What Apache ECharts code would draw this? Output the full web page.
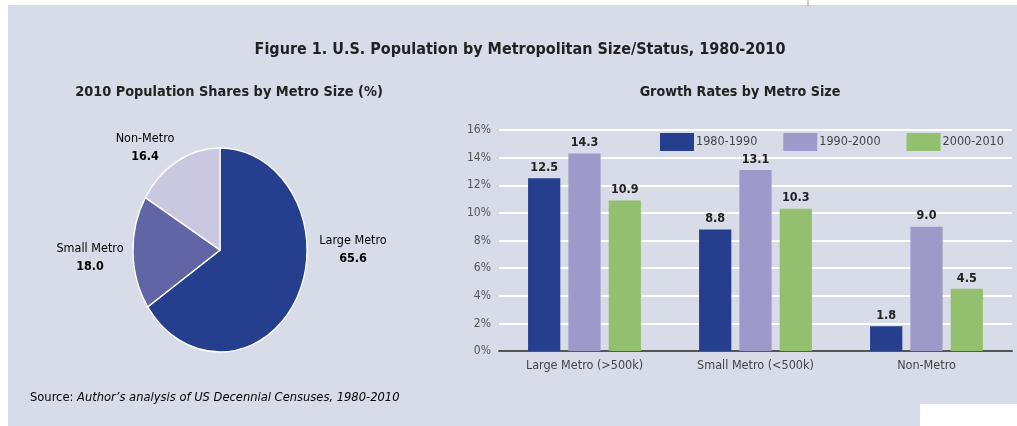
<!DOCTYPE html>
<html>
<head>
<meta charset="utf-8">
<script src="https://cdn.jsdelivr.net/npm/echarts@6/dist/echarts.min.js"></script>
<style>
  html, body { margin: 0; padding: 0; background: #ffffff; }
  #main { width: 1017px; height: 426px; }
</style>
</head>
<body>
<div id="main"></div>
<script>
// pie data: 2010 population shares (%)
var shareNames = ['Large Metro', 'Small Metro', 'Non-Metro'];
var shareValues = [65.6, 18.0, 16.4];
var shareColors = ['#253f8e', '#6165a5', '#c9c8e0'];

// bar data: growth rates by metro size (%)
var categories = ['Large Metro (>500k)', 'Small Metro (<500k)', 'Non-Metro'];
var periods = ['1980-1990', '1990-2000', '2000-2010'];
var growth1980 = [12.5, 8.8, 1.8];
var growth1990 = [14.3, 13.1, 9.0];
var growth2000 = [10.9, 10.3, 4.5];
var barColors = ['#253f8e', '#9d9ac9', '#92c06e'];

var FONT = '"Liberation Sans Narrow", "DejaVu Sans Condensed", sans-serif';

// pie geometry (the original is slightly squeezed horizontally)
var pieCx = 220, pieCy = 250, pieR = 102, pieSx = 0.853;
// label anchor offsets from centre for each slice
var labelOffsets = [[133, 0], [-130, 8], [-75, -102]];

var total = shareValues.reduce(function (a, b) { return a + b; }, 0);

function renderSlice(params, api) {
    var i = params.dataIndex;
    var before = 0;
    for (var k = 0; k < i; k++) before += shareValues[k];
    var start = -Math.PI / 2 + before / total * Math.PI * 2;
    var end = start + api.value(0) / total * Math.PI * 2;
    var off = labelOffsets[i];
    return {
        type: 'group',
        children: [{
            type: 'sector',
            shape: { cx: pieCx, cy: pieCy, r: pieR, r0: 0, startAngle: start, endAngle: end, clockwise: true },
            scaleX: pieSx, scaleY: 1, originX: pieCx, originY: pieCy,
            style: { fill: shareColors[i], stroke: '#ffffff', lineWidth: 1.5 }
        }, {
            type: 'text',
            x: pieCx + off[0], y: pieCy + off[1],
            style: {
                text: '{n|' + shareNames[i] + '}\n{v|' + api.value(0).toFixed(1) + '}',
                align: 'center', verticalAlign: 'middle',
                rich: {
                    n: { fontFamily: FONT, fontSize: 12.5, color: '#3a3a3a', lineHeight: 18 },
                    v: { fontFamily: FONT, fontSize: 12.5, fontWeight: 'bold', color: '#222', lineHeight: 18 }
                }
            }
        }]
    };
}

var chart = echarts.init(document.getElementById('main'));

function barSeries(name, data, color) {
    return {
        name: name,
        type: 'bar',
        data: data,
        barGap: '25%',
        barCategoryGap: '34%',
        itemStyle: { color: color },
        label: {
            show: true, position: 'top', distance: 4,
            fontFamily: FONT, fontSize: 12.5, fontWeight: 'bold', color: '#222',
            formatter: function (p) { return p.value.toFixed(1); }
        }
    };
}

var option = {
    backgroundColor: '#ffffff',
    animation: false,
    graphic: [
        { type: 'rect', shape: { x: 8, y: 5, width: 1009, height: 421 }, style: { fill: '#d8dce9' }, z: -10 },
        { type: 'rect', shape: { x: 920, y: 404, width: 97, height: 22 }, style: { fill: '#ffffff' }, z: -9 },
        { type: 'line', shape: { x1: 808, y1: 0, x2: 808, y2: 6 }, style: { stroke: '#999', lineWidth: 1 }, z: -9 },
        {
            type: 'text', x: 520, y: 50,
            style: { text: 'Figure 1. U.S. Population by Metropolitan Size/Status, 1980-2010', fontFamily: FONT, fontSize: 16, fontWeight: 'bold', fill: '#222', align: 'center', verticalAlign: 'middle' }
        },
        {
            type: 'text', x: 229, y: 92,
            style: { text: '2010 Population Shares by Metro Size (%)', fontFamily: FONT, fontSize: 14.4, fontWeight: 'bold', fill: '#222', align: 'center', verticalAlign: 'middle' }
        },
        {
            type: 'text', x: 740, y: 92,
            style: { text: 'Growth Rates by Metro Size', fontFamily: FONT, fontSize: 14.2, fontWeight: 'bold', fill: '#222', align: 'center', verticalAlign: 'middle' }
        },
        {
            type: 'text', x: 30, y: 398,
            style: {
                text: '{a|Source: }{b|Author\u2019s analysis of US Decennial Censuses, 1980-2010}',
                verticalAlign: 'middle',
                rich: {
                    a: { fontFamily: FONT, fontSize: 12.8, color: '#555' },
                    b: { fontFamily: FONT, fontSize: 12.8, fontStyle: 'italic', color: '#555' }
                }
            }
        }
    ],
    legend: {
        data: periods,
        left: 655, right: 0, top: 128,
        itemWidth: 34, itemHeight: 18, itemGap: 26,
        icon: 'rect',
        textStyle: { fontFamily: FONT, fontSize: 12.5, color: '#444', padding: [0, 0, 0, -3] }
    },
    grid: { left: 499, right: 5, top: 130, bottom: 75 },
    xAxis: {
        type: 'category',
        data: categories,
        axisLine: { lineStyle: { color: '#555', width: 2 } },
        axisTick: { show: false },
        axisLabel: { fontFamily: FONT, fontSize: 12.5, color: '#444', margin: 8 }
    },
    yAxis: {
        type: 'value',
        min: 0, max: 16, interval: 2,
        axisLine: { show: false },
        axisTick: { show: false },
        axisLabel: { fontFamily: FONT, fontSize: 12, color: '#555', margin: 8, formatter: '{value}%' },
        splitLine: { lineStyle: { color: '#ffffff', width: 2 } }
    },
    series: [
        barSeries(periods[0], growth1980, barColors[0]),
        barSeries(periods[1], growth1990, barColors[1]),
        barSeries(periods[2], growth2000, barColors[2]),
        {
            type: 'custom',
            coordinateSystem: 'none',
            renderItem: renderSlice,
            data: shareValues,
            silent: true
        }
    ]
};

chart.setOption(option);
</script>
</body>
</html>
